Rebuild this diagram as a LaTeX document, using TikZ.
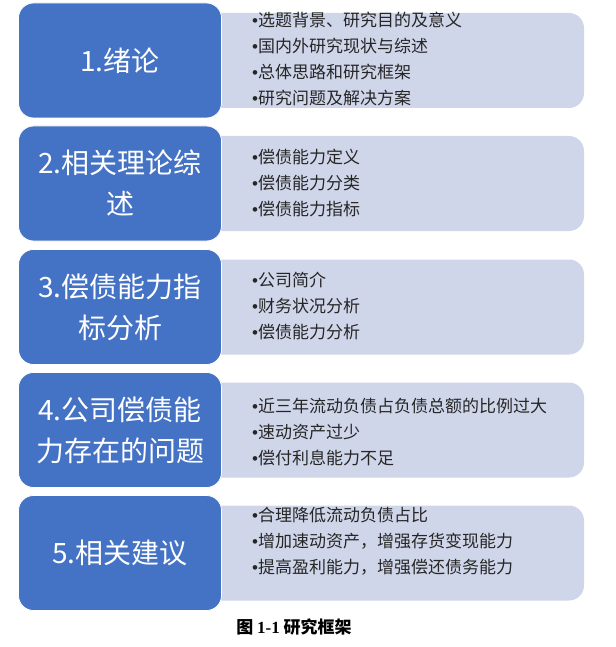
\documentclass[tikz,border=0pt]{standalone}
\usepackage{fontspec}
\setmainfont{Noto Sans CJK SC}
\newfontfamily\bulfont{Liberation Sans}
\newfontfamily\numfont{Liberation Serif}
\newcommand{\bul}{{\bulfont •}}
\definecolor{boxblue}{RGB}{68,114,196}
\definecolor{boxlight}{RGB}{208,214,234}
\usetikzlibrary{positioning}

\begin{document}
\begin{tikzpicture}[x=1pt,y=-1pt]

          \useasboundingbox (0,0) rectangle (615,647);

          \begin{scope}[every node/.style={rectangle, rounded corners=15pt, fill=boxlight, minimum width=384pt, minimum height=95pt}]
            \node (l1) at (392,60.5)  {};
            \node (l2) at (392,183.5) {};
            \node (l3) at (392,307)   {};
            \node (l4) at (392,430)   {};
            \node (l5) at (392,553)   {};
          \end{scope}

          \begin{scope}[every node/.style={rectangle, rounded corners=15pt, fill=boxblue, draw=white, line width=.8pt, text=white, minimum width=203pt, minimum height=115pt, align=center, font=\fontsize{28}{41}\selectfont}]
            \node (b1) at (120,60.5)  {1.绪论};
            \node (b2) at (120,183.5) {2.相关理论综\\述};
            \node (b3) at (120,307)   {3.偿债能力指\\标分析};
            \node (b4) at (120,430)   {4.公司偿债能\\力存在的问题};
            \node (b5) at (120,553)   {5.相关建议};
          \end{scope}

          \begin{scope}[every node/.style={anchor=west, inner sep=0pt, align=left, text=black!85, font=\fontsize{17}{26}\selectfont}]
            \node (t1) at (252,59)  {\bul 选题背景、研究目的及意义\\\bul 国内外研究现状与综述\\\bul 总体思路和研究框架\\\bul 研究问题及解决方案};
            \node (t2) at (252,183) {\bul 偿债能力定义\\\bul 偿债能力分类\\\bul 偿债能力指标};
            \node (t3) at (252,306) {\bul 公司简介\\\bul 财务状况分析\\\bul 偿债能力分析};
            \node (t4) at (252,432) {\bul 近三年流动负债占负债总额的比例过大\\\bul 速动资产过少\\\bul 偿付利息能力不足};
            \node (t5) at (252,541) {\bul 合理降低流动负债占比\\\bul 增加速动资产，增强存货变现能力\\\bul 提高盈利能力，增强偿还债务能力};
          \end{scope}

          \node[font=\fontsize{17}{19}\selectfont\bfseries] (cap) at (294,627) {图 {\numfont\bfseries 1-1} 研究框架};

        \end{tikzpicture}
\end{document}
